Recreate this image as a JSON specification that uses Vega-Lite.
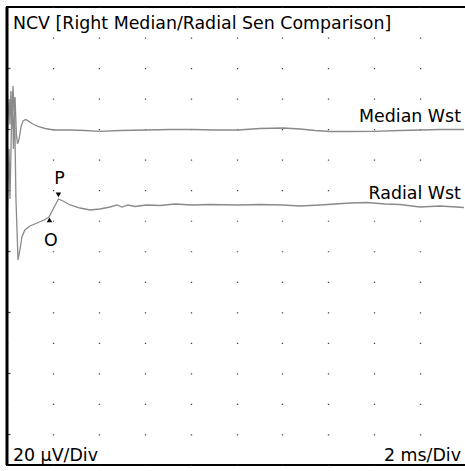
{
  "$schema": "https://vega.github.io/schema/vega-lite/v6.json",
  "width": 459,
  "height": 458,
  "autosize": "none",
  "padding": {"left": 7, "top": 7, "right": 0, "bottom": 6},
  "background": "white",
  "config": {
    "view": {"stroke": "black", "strokeWidth": 2}
  },
  "datasets": {
    "traces": [
      {"trace": "Median Wst", "t": 0.02, "amp": 219.43},
      {"trace": "Median Wst", "t": 0.09, "amp": 239.74},
      {"trace": "Median Wst", "t": 0.13, "amp": 223.07},
      {"trace": "Median Wst", "t": 0.17, "amp": 244.98},
      {"trace": "Median Wst", "t": 0.22, "amp": 220.09},
      {"trace": "Median Wst", "t": 0.26, "amp": 248.25},
      {"trace": "Median Wst", "t": 0.31, "amp": 231.88},
      {"trace": "Median Wst", "t": 0.35, "amp": 241.05},
      {"trace": "Median Wst", "t": 0.41, "amp": 216.26},
      {"trace": "Median Wst", "t": 0.46, "amp": 210.36},
      {"trace": "Median Wst", "t": 0.52, "amp": 212.98},
      {"trace": "Median Wst", "t": 0.61, "amp": 221.5},
      {"trace": "Median Wst", "t": 0.7, "amp": 225.43},
      {"trace": "Median Wst", "t": 0.81, "amp": 226.31},
      {"trace": "Median Wst", "t": 0.92, "amp": 225.43},
      {"trace": "Median Wst", "t": 1.09, "amp": 223.69},
      {"trace": "Median Wst", "t": 1.35, "amp": 221.73},
      {"trace": "Median Wst", "t": 1.66, "amp": 220.42},
      {"trace": "Median Wst", "t": 2.05, "amp": 219.43},
      {"trace": "Median Wst", "t": 2.75, "amp": 219.43},
      {"trace": "Median Wst", "t": 3.4, "amp": 219.11},
      {"trace": "Median Wst", "t": 4.05, "amp": 218.58},
      {"trace": "Median Wst", "t": 4.92, "amp": 219.11},
      {"trace": "Median Wst", "t": 6.06, "amp": 219.43},
      {"trace": "Median Wst", "t": 7.1, "amp": 219.76},
      {"trace": "Median Wst", "t": 8.06, "amp": 219.76},
      {"trace": "Median Wst", "t": 9.06, "amp": 219.43},
      {"trace": "Median Wst", "t": 10.07, "amp": 219.43},
      {"trace": "Median Wst", "t": 11.02, "amp": 220.42},
      {"trace": "Median Wst", "t": 12.03, "amp": 220.74},
      {"trace": "Median Wst", "t": 12.77, "amp": 220.09},
      {"trace": "Median Wst", "t": 13.42, "amp": 219.11},
      {"trace": "Median Wst", "t": 14.07, "amp": 218.45},
      {"trace": "Median Wst", "t": 14.95, "amp": 218.45},
      {"trace": "Median Wst", "t": 15.99, "amp": 218.58},
      {"trace": "Median Wst", "t": 17.12, "amp": 219.11},
      {"trace": "Median Wst", "t": 18.04, "amp": 219.43},
      {"trace": "Median Wst", "t": 18.87, "amp": 219.76},
      {"trace": "Median Wst", "t": 19.91, "amp": 219.76},
      {"trace": "Radial Wst", "t": 0.02, "amp": 169.0},
      {"trace": "Radial Wst", "t": 0.09, "amp": 206.99},
      {"trace": "Radial Wst", "t": 0.13, "amp": 174.23},
      {"trace": "Radial Wst", "t": 0.2, "amp": 226.64},
      {"trace": "Radial Wst", "t": 0.24, "amp": 244.32},
      {"trace": "Radial Wst", "t": 0.28, "amp": 206.99},
      {"trace": "Radial Wst", "t": 0.33, "amp": 233.19},
      {"trace": "Radial Wst", "t": 0.39, "amp": 174.23},
      {"trace": "Radial Wst", "t": 0.48, "amp": 134.28},
      {"trace": "Radial Wst", "t": 0.57, "amp": 141.48},
      {"trace": "Radial Wst", "t": 0.65, "amp": 149.34},
      {"trace": "Radial Wst", "t": 0.78, "amp": 153.93},
      {"trace": "Radial Wst", "t": 1.0, "amp": 156.55},
      {"trace": "Radial Wst", "t": 1.31, "amp": 158.51},
      {"trace": "Radial Wst", "t": 1.61, "amp": 160.48},
      {"trace": "Radial Wst", "t": 1.83, "amp": 162.45},
      {"trace": "Radial Wst", "t": 2.24, "amp": 174.24},
      {"trace": "Radial Wst", "t": 2.44, "amp": 172.93},
      {"trace": "Radial Wst", "t": 2.75, "amp": 170.31},
      {"trace": "Radial Wst", "t": 3.18, "amp": 168.34},
      {"trace": "Radial Wst", "t": 3.62, "amp": 167.03},
      {"trace": "Radial Wst", "t": 4.05, "amp": 167.69},
      {"trace": "Radial Wst", "t": 4.49, "amp": 169.0},
      {"trace": "Radial Wst", "t": 4.79, "amp": 170.31},
      {"trace": "Radial Wst", "t": 5.01, "amp": 169.0},
      {"trace": "Radial Wst", "t": 5.27, "amp": 170.31},
      {"trace": "Radial Wst", "t": 5.58, "amp": 169.33},
      {"trace": "Radial Wst", "t": 6.06, "amp": 170.31},
      {"trace": "Radial Wst", "t": 6.67, "amp": 169.98},
      {"trace": "Radial Wst", "t": 7.32, "amp": 170.96},
      {"trace": "Radial Wst", "t": 8.06, "amp": 170.31},
      {"trace": "Radial Wst", "t": 8.85, "amp": 170.63},
      {"trace": "Radial Wst", "t": 10.07, "amp": 170.31},
      {"trace": "Radial Wst", "t": 11.02, "amp": 170.63},
      {"trace": "Radial Wst", "t": 12.03, "amp": 170.31},
      {"trace": "Radial Wst", "t": 12.77, "amp": 169.65},
      {"trace": "Radial Wst", "t": 13.64, "amp": 170.31},
      {"trace": "Radial Wst", "t": 14.29, "amp": 170.96},
      {"trace": "Radial Wst", "t": 14.95, "amp": 171.62},
      {"trace": "Radial Wst", "t": 15.69, "amp": 171.95},
      {"trace": "Radial Wst", "t": 16.47, "amp": 170.96},
      {"trace": "Radial Wst", "t": 17.12, "amp": 170.63},
      {"trace": "Radial Wst", "t": 17.99, "amp": 169.0},
      {"trace": "Radial Wst", "t": 18.87, "amp": 169.65},
      {"trace": "Radial Wst", "t": 19.91, "amp": 168.67}
    ],
    "markers": [
      {"marker": "P", "t": 2.24, "amp": 176.9, "dir": "down"},
      {"marker": "O", "t": 1.85, "amp": 160.5, "dir": "up"}
    ],
    "one": [{}]
  },
  "layer": [
    {
      "data": {"name": "traces"},
      "mark": {"type": "line", "color": "#8a8a8a", "strokeWidth": 1.3, "interpolate": "linear"},
      "encoding": {
        "x": {
          "field": "t", "type": "quantitative",
          "scale": {"domain": [0, 20], "nice": false, "zero": false},
          "axis": {
            "values": [0, 2, 4, 6, 8, 10, 12, 14, 16, 18, 20],
            "grid": true, "gridDash": [1.2, 29.333], "gridDashOffset": 0.6,
            "gridColor": "#444", "gridWidth": 1.3, "gridOpacity": 1,
            "domain": false, "ticks": false, "labels": false, "title": null
          }
        },
        "y": {
          "field": "amp", "type": "quantitative",
          "scale": {"domain": [0, 300], "nice": false, "zero": false},
          "axis": {
            "values": [20, 40, 60, 80, 100, 120, 140, 160, 180, 200, 220, 240, 260, 280],
            "grid": false, "domain": false, "ticks": true, "tickSize": -3,
            "tickColor": "#444", "tickWidth": 1.2, "labels": false, "title": null
          }
        },
        "detail": {"field": "trace"}
      }
    },
    {
      "data": {"name": "markers"},
      "mark": {"type": "point", "filled": true, "color": "black", "opacity": 1, "size": 30},
      "encoding": {
        "x": {"field": "t", "type": "quantitative", "scale": {"domain": [0, 20]}},
        "y": {"field": "amp", "type": "quantitative", "scale": {"domain": [0, 300]}},
        "shape": {
          "field": "dir", "type": "nominal",
          "scale": {"domain": ["down", "up"], "range": ["triangle-down", "triangle-up"]},
          "legend": null
        }
      }
    },
    {
      "data": {"name": "markers"},
      "transform": [{"filter": "datum.marker === 'P'"}],
      "mark": {"type": "text", "font": "DejaVu Sans", "fontSize": 17.4, "color": "black", "dy": -11, "dx": 1, "baseline": "alphabetic", "align": "center"},
      "encoding": {
        "x": {"field": "t", "type": "quantitative", "scale": {"domain": [0, 20]}},
        "y": {"field": "amp", "type": "quantitative", "scale": {"domain": [0, 300]}},
        "text": {"field": "marker"}
      }
    },
    {
      "data": {"name": "markers"},
      "transform": [{"filter": "datum.marker === 'O'"}],
      "mark": {"type": "text", "font": "DejaVu Sans", "fontSize": 17.4, "color": "black", "dy": 26, "dx": 1.5, "baseline": "alphabetic", "align": "center"},
      "encoding": {
        "x": {"field": "t", "type": "quantitative", "scale": {"domain": [0, 20]}},
        "y": {"field": "amp", "type": "quantitative", "scale": {"domain": [0, 300]}},
        "text": {"field": "marker"}
      }
    },
    {
      "data": {"name": "one"},
      "mark": {"type": "rule", "color": "black", "strokeWidth": 3},
      "encoding": {
        "x": {"datum": 0, "type": "quantitative", "scale": {"domain": [0, 20]}},
        "y": {"datum": 0, "type": "quantitative", "scale": {"domain": [0, 300]}},
        "y2": {"datum": 300}
      }
    },
    {
      "data": {"name": "one"},
      "mark": {"type": "text", "font": "DejaVu Sans", "fontSize": 17.4, "color": "black", "text": "NCV [Right Median/Radial Sen Comparison]", "align": "left", "baseline": "alphabetic"},
      "encoding": {
        "x": {"datum": 0.26, "type": "quantitative", "scale": {"domain": [0, 20]}},
        "y": {"datum": 285.6, "type": "quantitative", "scale": {"domain": [0, 300]}}
      }
    },
    {
      "data": {"name": "one"},
      "mark": {"type": "text", "font": "DejaVu Sans", "fontSize": 17.4, "color": "black", "text": "Median Wst", "align": "right", "baseline": "alphabetic"},
      "encoding": {
        "x": {"datum": 19.78, "type": "quantitative", "scale": {"domain": [0, 20]}},
        "y": {"datum": 225.0, "type": "quantitative", "scale": {"domain": [0, 300]}}
      }
    },
    {
      "data": {"name": "one"},
      "mark": {"type": "text", "font": "DejaVu Sans", "fontSize": 17.4, "color": "black", "text": "Radial Wst", "align": "right", "baseline": "alphabetic"},
      "encoding": {
        "x": {"datum": 19.78, "type": "quantitative", "scale": {"domain": [0, 20]}},
        "y": {"datum": 174.2, "type": "quantitative", "scale": {"domain": [0, 300]}}
      }
    },
    {
      "data": {"name": "one"},
      "mark": {"type": "text", "font": "DejaVu Sans", "fontSize": 17.4, "color": "black", "text": "20 µV/Div", "align": "left", "baseline": "alphabetic"},
      "encoding": {
        "x": {"datum": 0.26, "type": "quantitative", "scale": {"domain": [0, 20]}},
        "y": {"datum": 2.6, "type": "quantitative", "scale": {"domain": [0, 300]}}
      }
    },
    {
      "data": {"name": "one"},
      "mark": {"type": "text", "font": "DejaVu Sans", "fontSize": 17.4, "color": "black", "text": "2 ms/Div", "align": "right", "baseline": "alphabetic"},
      "encoding": {
        "x": {"datum": 19.78, "type": "quantitative", "scale": {"domain": [0, 20]}},
        "y": {"datum": 2.6, "type": "quantitative", "scale": {"domain": [0, 300]}}
      }
    }
  ]
}
